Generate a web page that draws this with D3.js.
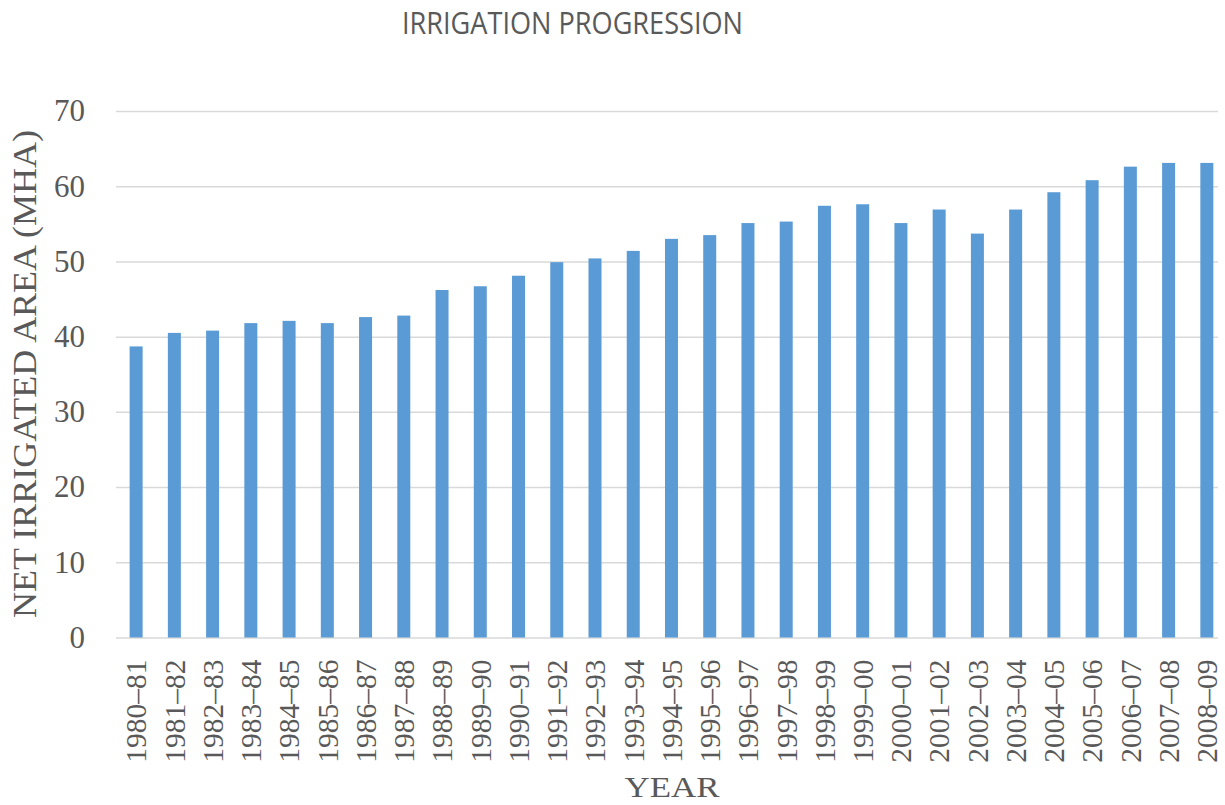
<!DOCTYPE html>
<html>
<head>
<meta charset="utf-8">
<script src="https://cdn.jsdelivr.net/npm/d3@7"></script>
<style>
  html, body { margin: 0; padding: 0; background: #fff; overflow: hidden; }
  #chart { width: 1225px; height: 805px; }
  #chart svg { display: block; }
</style>
</head>
<body>
<div id="chart"></div>
<script>
const years = [
  "1980–81", "1981–82", "1982–83", "1983–84", "1984–85", "1985–86", "1986–87", "1987–88",
  "1988–89", "1989–90", "1990–91", "1991–92", "1992–93", "1993–94", "1994–95", "1995–96",
  "1996–97", "1997–98", "1998–99", "1999–00", "2000–01", "2001–02", "2002–03", "2003–04",
  "2004–05", "2005–06", "2006–07", "2007–08", "2008–09",
];
const netIrrigated = [
  38.7, 40.5, 40.8, 41.8, 42.1, 41.8, 42.6, 42.8,
  46.2, 46.7, 48.1, 49.9, 50.4, 51.4, 53.0, 53.5,
  55.1, 55.3, 57.4, 57.6, 55.1, 56.9, 53.7, 56.9,
  59.2, 60.8, 62.6, 63.1, 63.1,
];
const yTicks = [0, 10, 20, 30, 40, 50, 60, 70];

const width = 1225;
const height = 805;
const margin = { top: 111, right: 7, bottom: 167.5, left: 116 };
const innerWidth = width - margin.left - margin.right;
const innerHeight = height - margin.top - margin.bottom;
const step = 38.24;
const serif = "'Liberation Serif', 'DejaVu Serif', serif";

const svg = d3
  .select("#chart")
  .append("svg")
  .attr("width", width)
  .attr("height", height)
  .attr("viewBox", `0 0 ${width} ${height}`);

const chart = svg
  .append("g")
  .attr("transform", `translate(${margin.left}, ${margin.top})`);

const x = d3
  .scaleBand()
  .domain(years)
  .range([1, 1 + step * years.length])
  .paddingInner(0.66)
  .paddingOuter(0.33);

const y = d3
  .scaleLinear()
  .domain([0, 70])
  .range([innerHeight, 0]);

// gridlines + tick labels
chart
  .append("g")
  .call(
    d3.axisLeft(y)
      .tickValues(yTicks)
      .tickSize(-innerWidth)
      .tickPadding(31),
  )
  .call((g) => g.select(".domain").remove())
  .call((g) => g.selectAll("line").attr("stroke", "#d9d9d9").attr("stroke-width", 1.5))
  .call((g) =>
    g.selectAll("text")
      .attr("fill", "#595959")
      .attr("font-family", serif)
      .attr("font-size", 31),
  );

chart
  .selectAll("rect.bar")
  .data(netIrrigated)
  .enter()
  .append("rect")
  .attr("class", "bar")
  .attr("x", (d, i) => x(years[i]))
  .attr("y", (d) => y(d))
  .attr("width", x.bandwidth())
  .attr("height", (d) => innerHeight - y(d))
  .attr("fill", "#5b9bd5");

chart
  .append("g")
  .attr("transform", `translate(0, ${innerHeight})`)
  .call(d3.axisBottom(x).tickSize(0).tickPadding(0))
  .call((g) => g.select(".domain").remove())
  .call((g) =>
    g.selectAll("text")
      .attr("fill", "#595959")
      .attr("font-family", serif)
      .attr("font-size", 29.5)
      .attr("text-anchor", "end")
      .attr("transform", "translate(0, 22) rotate(-90)")
      .attr("x", 0)
      .attr("y", 0)
      .attr("dy", "0.35em"),
  );

svg
  .append("text")
  .attr("x", 572.5)
  .attr("y", 34)
  .attr("text-anchor", "middle")
  .attr("fill", "#595959")
  .attr("font-family", "'Liberation Sans Narrow', 'Open Sans', sans-serif")
  .attr("font-size", 31)
  .attr("textLength", 341)
  .attr("lengthAdjust", "spacingAndGlyphs")
  .text("IRRIGATION PROGRESSION");

svg
  .append("text")
  .attr("transform", `translate(36, ${(130 + 618) / 2}) rotate(-90)`)
  .attr("text-anchor", "middle")
  .attr("fill", "#595959")
  .attr("font-family", serif)
  .attr("font-size", 34)
  .attr("textLength", 488)
  .attr("lengthAdjust", "spacingAndGlyphs")
  .text("NET IRRIGATED AREA (MHA)");

svg
  .append("text")
  .attr("x", 672)
  .attr("y", 797)
  .attr("text-anchor", "middle")
  .attr("fill", "#595959")
  .attr("font-family", serif)
  .attr("font-size", 30)
  .attr("textLength", 95)
  .attr("lengthAdjust", "spacingAndGlyphs")
  .text("YEAR");
</script>
</body>
</html>
